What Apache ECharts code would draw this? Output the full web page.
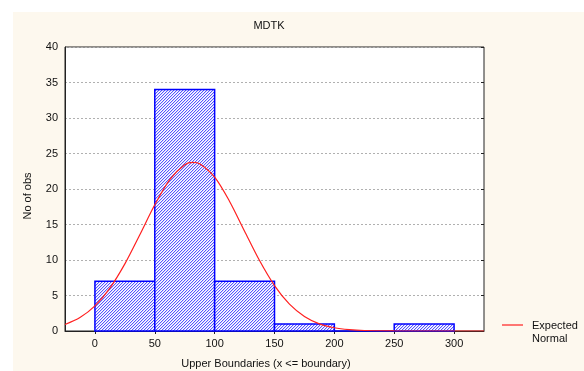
<!DOCTYPE html>
<html><head><meta charset="utf-8">
<script src="https://cdn.jsdelivr.net/npm/echarts@6/dist/echarts.min.js"></script>
<style>html,body{margin:0;padding:0;background:#fff}#c{width:584px;height:371px}</style>
</head><body><div id="c"></div>
<script>
var title = 'MDTK';
var yAxisTitle = 'No of obs';
var xAxisTitle = 'Upper Boundaries (x <= boundary)';
var legendLabel = 'Expected\nNormal';
var binStarts = [0, 50, 100, 150, 200, 250];
var binEnds = [50, 100, 150, 200, 250, 300];
var counts = [7, 34, 7, 1, 0, 1];
var xTicks = [0, 50, 100, 150, 200, 250, 300];
var curveX = [-25, -12.5, 0, 12.5, 25, 37.5, 50, 62.5, 75, 82, 87.5, 100, 112.5, 125, 137.5, 150, 162.5, 175, 187.5, 200, 212.5, 225, 250, 275, 300, 325];
var curveY = [0.92, 1.89, 3.53, 6.04, 9.45, 13.55, 17.77, 21.32, 23.42, 23.75, 23.55, 21.67, 18.25, 14.06, 9.92, 6.40, 3.78, 2.05, 1.01, 0.46, 0.19, 0.07, 0.01, 0, 0, 0];

var pc = document.createElement('canvas');
pc.width = 3; pc.height = 3;
var ctx = pc.getContext('2d');
ctx.fillStyle = '#ffffff'; ctx.fillRect(0, 0, 3, 3);
ctx.fillStyle = '#d4d4ff';
ctx.fillRect(1, 2, 1, 1); ctx.fillRect(2, 1, 1, 1); ctx.fillRect(0, 0, 1, 1);
ctx.fillStyle = '#5656ff';
ctx.fillRect(0, 2, 1, 1); ctx.fillRect(1, 1, 1, 1); ctx.fillRect(2, 0, 1, 1);

var barData = binStarts.map(function (s, i) { return [s, binEnds[i], counts[i]]; });
var lineData = curveX.map(function (x, i) { return [x, curveY[i]]; });

var font = 'Liberation Sans, Arial, sans-serif';
var chart = echarts.init(document.getElementById('c'));
chart.setOption({
  animation: false,
  textStyle: { fontFamily: font },
  graphic: [
    { type: 'rect', z: -10, silent: true, shape: { x: 13, y: 12, width: 571, height: 359 }, style: { fill: '#fdf8ee' } },
    { type: 'text', x: 269, y: 26, style: { text: title, font: '11px ' + font, fill: '#111', align: 'center', verticalAlign: 'middle' } },
    { type: 'text', x: 28, y: 196, rotation: Math.PI / 2, style: { text: yAxisTitle, font: '11px ' + font, fill: '#111', align: 'center', verticalAlign: 'middle' } },
    { type: 'text', x: 266, y: 364, style: { text: xAxisTitle, font: '11px ' + font, fill: '#111', align: 'center', verticalAlign: 'middle' } },
    { type: 'line', shape: { x1: 502, y1: 325, x2: 523, y2: 325 }, style: { stroke: '#ff2020', lineWidth: 1.2 } },
    { type: 'text', x: 532, y: 332, style: { text: legendLabel, font: '11px ' + font, fill: '#111', align: 'left', verticalAlign: 'middle', lineHeight: 13 } }
  ],
  grid: { left: 65, top: 47, width: 419, height: 284, show: true, backgroundColor: '#ffffff', borderColor: '#222', borderWidth: 1 },
  xAxis: [{
    type: 'value', min: -25, max: 325, position: 'bottom',
    axisLine: { show: true, onZero: false, lineStyle: { color: '#222' } },
    axisTick: { show: false },
    axisLabel: { customValues: xTicks, color: '#111', fontSize: 11, margin: 7 },
    splitLine: { show: false }
  }, {
    type: 'value', min: -25, max: 325, position: 'top',
    axisLine: { show: false },
    axisTick: { show: true, inside: true, length: 3, customValues: xTicks, lineStyle: { color: '#222' } },
    axisLabel: { show: false },
    splitLine: { show: false }
  }],
  yAxis: [{
    type: 'value', min: 0, max: 40, interval: 5, position: 'left',
    axisLine: { show: true, onZero: false, lineStyle: { color: '#222' } },
    axisTick: { show: false },
    axisLabel: { color: '#111', fontSize: 11, margin: 7 },
    splitLine: { show: true, lineStyle: { color: '#b0b0b0', type: [2, 2], width: 1 } }
  }, {
    type: 'value', min: 0, max: 40, interval: 5, position: 'right',
    axisLine: { show: false, onZero: false },
    axisTick: { show: true, inside: true, length: 3, lineStyle: { color: '#222' } },
    axisLabel: { show: false },
    splitLine: { show: false }
  }],
  series: [{
    type: 'custom',
    xAxisIndex: 0, yAxisIndex: 0,
    data: barData,
    encode: { x: [0, 1], y: 2 },
    renderItem: function (params, api) {
      var p0 = api.coord([api.value(0), api.value(2)]);
      var p1 = api.coord([api.value(1), 0]);
      return {
        type: 'rect',
        shape: { x: p0[0], y: p0[1], width: p1[0] - p0[0], height: p1[1] - p0[1] },
        style: { fill: { image: pc, repeat: 'repeat' }, stroke: '#0000ff', lineWidth: 1.5 }
      };
    },
    z: 2
  }, {
    type: 'line',
    xAxisIndex: 0, yAxisIndex: 0,
    data: lineData,
    smooth: 0.3,
    showSymbol: false,
    lineStyle: { color: '#ff2020', width: 1.2 },
    z: 3
  }]
});
</script></body></html>
